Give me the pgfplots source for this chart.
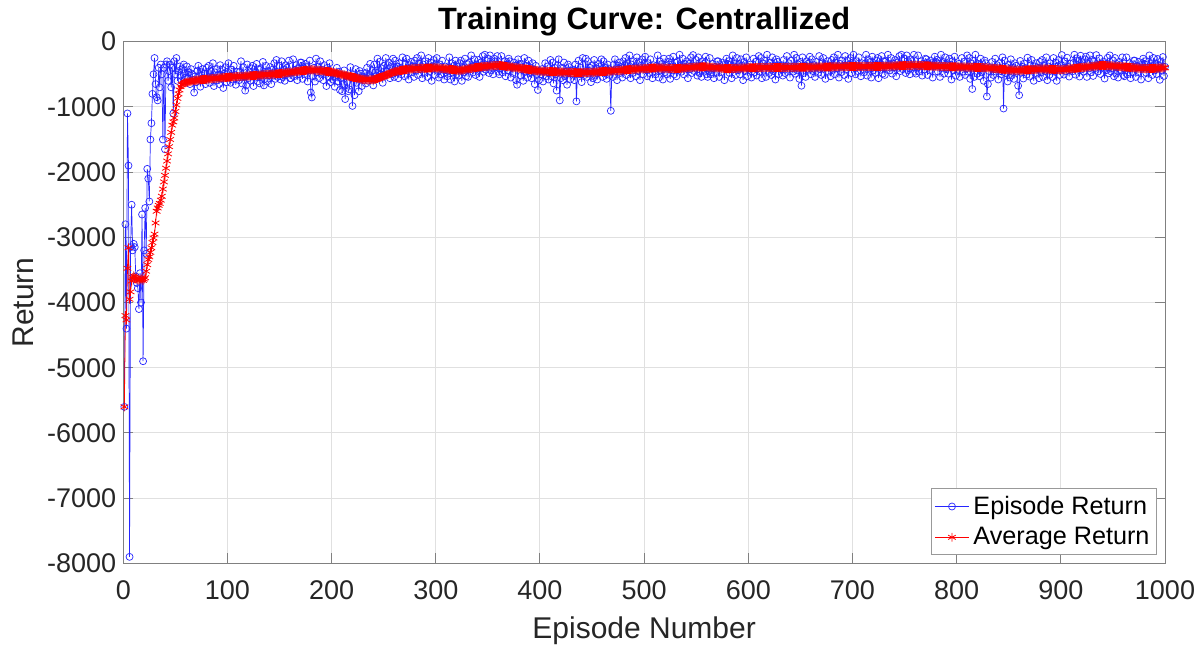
\documentclass[border=0pt]{standalone}
\usepackage{pgfplots}
\usepackage{pgfplotstable}
\usepackage{fontspec}
\setmainfont{Liberation Sans}
\pgfplotsset{compat=1.18}

% Per-episode return and its running average
\pgfplotstableread{
ret avg
-5600 -5600
-2800 -4200
-4400 -4267
-1100 -3475
-1900 -3160
-7900 -3950
-3150 -3836
-2500 -3670
-3200 -3617
-3100 -3590
-3150 -3610
-3600 -3630
-3700 -3640
-3780 -3650
-4100 -3660
-3550 -3640
-4000 -3650
-2650 -3630
-4900 -3660
-3200 -3640
-2550 -3620
-3250 -3520
-1950 -3420
-2100 -3340
-2450 -3300
-1500 -3230
-1250 -3160
-800 -3080
-500 -3010
-250 -2950
-650 -2780
-850 -2600
-900 -2550
-400 -2510
-700 -2480
-350 -2430
-500 -2370
-1500 -2260
-400 -2150
-1650 -2050
-350 -1940
-300 -1830
-600 -1720
-450 -1610
-350 -1500
-700 -1390
-400 -1280
-1100 -1230
-300 -1170
-500 -1070
-250 -970
-600 -870
-450 -800
-380 -740
-520 -690
-600 -660
-420 -650
-350 -640
-480 -630
-550 -625
-380 -621
-560 -618
-470 -615
-650 -611
-420 -607
-490 -604
-590 -600
-780 -597
-530 -594
-620 -590
-450 -589
-370 -587
-520 -586
-690 -584
-470 -583
-420 -581
-580 -580
-490 -578
-650 -577
-400 -575
-560 -574
-370 -572
-630 -571
-450 -569
-540 -568
-330 -566
-680 -565
-470 -563
-600 -562
-420 -560
-510 -559
-650 -557
-360 -556
-570 -554
-430 -553
-710 -551
-490 -550
-390 -548
-620 -547
-460 -545
-330 -544
-530 -543
-630 -542
-430 -541
-580 -540
-370 -539
-510 -538
-660 -537
-460 -536
-550 -535
-590 -534
-460 -533
-300 -532
-640 -531
-390 -530
-530 -529
-750 -528
-670 -527
-350 -526
-560 -525
-470 -524
-600 -523
-410 -522
-370 -521
-680 -520
-480 -518
-550 -517
-340 -516
-610 -515
-420 -514
-640 -513
-420 -511
-520 -510
-310 -509
-670 -508
-570 -507
-370 -505
-610 -504
-450 -503
-510 -502
-390 -501
-650 -500
-430 -498
-520 -497
-330 -496
-570 -495
-280 -494
-540 -492
-490 -491
-370 -490
-580 -488
-300 -486
-540 -484
-430 -482
-600 -480
-360 -478
-400 -476
-490 -474
-290 -472
-560 -470
-560 -468
-470 -466
-270 -464
-530 -462
-430 -459
-360 -457
-590 -455
-410 -453
-500 -450
-320 -448
-320 -446
-570 -445
-410 -443
-500 -441
-340 -440
-390 -438
-610 -437
-440 -435
-290 -434
-780 -432
-855 -431
-530 -432
-400 -434
-610 -435
-260 -437
-470 -438
-380 -440
-560 -441
-300 -443
-490 -445
-430 -447
-590 -449
-360 -451
-460 -453
-680 -455
-400 -457
-540 -459
-330 -461
-620 -463
-480 -465
-580 -469
-490 -473
-690 -477
-540 -481
-400 -485
-610 -489
-460 -493
-740 -497
-560 -501
-760 -505
-650 -509
-440 -513
-880 -516
-520 -520
-620 -524
-760 -528
-730 -532
-390 -536
-550 -539
-985 -543
-500 -547
-820 -550
-420 -554
-630 -557
-560 -561
-760 -564
-450 -568
-490 -571
-680 -575
-550 -578
-540 -580
-480 -582
-640 -584
-400 -585
-600 -586
-510 -586
-340 -585
-550 -584
-450 -583
-670 -582
-350 -578
-470 -574
-520 -569
-260 -563
-550 -557
-310 -551
-500 -546
-410 -541
-630 -535
-370 -530
-520 -523
-250 -516
-450 -509
-360 -502
-320 -496
-560 -489
-390 -482
-500 -476
-260 -469
-540 -462
-290 -459
-470 -456
-380 -452
-560 -449
-330 -446
-400 -443
-500 -440
-240 -436
-440 -433
-530 -430
-340 -428
-260 -426
-410 -425
-580 -423
-360 -421
-310 -419
-470 -417
-380 -416
-540 -414
-290 -412
-440 -411
-250 -411
-510 -410
-330 -409
-420 -409
-210 -408
-560 -408
-350 -407
-480 -407
-300 -406
-400 -405
-540 -405
-250 -404
-460 -404
-320 -403
-600 -403
-380 -402
-280 -401
-510 -401
-350 -400
-250 -402
-450 -404
-550 -405
-350 -407
-500 -409
-290 -410
-430 -412
-580 -414
-380 -415
-470 -417
-530 -419
-400 -421
-240 -422
-580 -424
-330 -426
-470 -428
-370 -429
-610 -431
-290 -433
-500 -435
-390 -437
-520 -438
-330 -438
-290 -437
-600 -435
-400 -433
-470 -430
-260 -427
-530 -424
-340 -420
-540 -417
-320 -414
-420 -412
-210 -409
-380 -406
-470 -403
-270 -401
-510 -398
-350 -396
-410 -393
-280 -391
-540 -389
-320 -387
-410 -386
-220 -384
-460 -382
-200 -380
-430 -379
-380 -377
-260 -375
-480 -374
-210 -372
-440 -371
-330 -370
-500 -368
-260 -367
-300 -366
-390 -364
-220 -363
-460 -362
-500 -364
-410 -366
-220 -368
-470 -370
-370 -372
-300 -374
-530 -377
-350 -379
-440 -381
-260 -383
-300 -385
-550 -387
-390 -390
-480 -392
-320 -394
-370 -396
-590 -398
-660 -401
-270 -403
-350 -405
-340 -407
-520 -410
-390 -412
-600 -414
-250 -417
-460 -419
-370 -421
-550 -424
-290 -426
-480 -428
-400 -430
-560 -432
-330 -435
-430 -437
-650 -439
-370 -441
-510 -444
-740 -446
-590 -448
-450 -450
-500 -451
-420 -452
-610 -452
-460 -453
-330 -454
-530 -455
-380 -455
-580 -456
-480 -457
-280 -458
-530 -459
-320 -459
-640 -460
-400 -461
-500 -462
-750 -462
-360 -463
-270 -464
-900 -464
-560 -465
-400 -466
-590 -467
-320 -468
-530 -468
-460 -469
-660 -470
-350 -471
-390 -471
-580 -472
-450 -473
-490 -473
-430 -474
-590 -474
-350 -474
-915 -475
-460 -475
-290 -475
-500 -475
-400 -475
-620 -475
-250 -475
-470 -474
-510 -474
-260 -473
-540 -472
-300 -472
-490 -471
-400 -470
-620 -470
-360 -469
-560 -468
-280 -467
-520 -466
-410 -465
-580 -464
-340 -463
-380 -462
-470 -461
-270 -460
-540 -459
-300 -458
-480 -457
-400 -455
-570 -454
-350 -453
-410 -452
-510 -451
-1060 -449
-450 -448
-540 -447
-350 -446
-270 -445
-420 -443
-590 -442
-370 -441
-320 -440
-480 -438
-390 -437
-550 -436
-300 -435
-440 -434
-250 -433
-510 -431
-330 -430
-420 -429
-210 -428
-560 -427
-350 -425
-480 -424
-300 -423
-390 -422
-530 -421
-240 -420
-450 -419
-310 -418
-590 -417
-370 -416
-270 -415
-500 -414
-340 -413
-230 -412
-430 -411
-530 -410
-330 -409
-480 -408
-270 -407
-410 -405
-560 -404
-360 -403
-450 -402
-500 -402
-370 -402
-210 -403
-550 -403
-300 -404
-440 -404
-340 -405
-580 -405
-260 -406
-470 -406
-370 -407
-500 -408
-310 -409
-260 -410
-570 -410
-380 -411
-440 -412
-230 -413
-500 -413
-320 -414
-530 -413
-310 -412
-410 -411
-200 -409
-370 -408
-460 -407
-260 -406
-500 -404
-340 -403
-400 -402
-300 -400
-560 -399
-340 -398
-420 -396
-240 -395
-480 -393
-205 -392
-450 -391
-400 -389
-280 -388
-520 -388
-240 -387
-480 -387
-370 -387
-540 -386
-300 -386
-340 -386
-430 -385
-230 -385
-500 -385
-540 -387
-450 -388
-250 -390
-500 -391
-400 -393
-340 -394
-560 -396
-390 -397
-480 -399
-300 -400
-300 -401
-540 -403
-390 -404
-470 -406
-320 -407
-360 -408
-590 -410
-410 -411
-260 -413
-340 -414
-300 -413
-480 -413
-350 -412
-560 -411
-210 -411
-420 -410
-330 -409
-510 -409
-250 -408
-440 -407
-340 -406
-500 -406
-270 -405
-370 -404
-590 -404
-310 -403
-450 -402
-240 -402
-530 -401
-390 -400
-430 -400
-350 -400
-550 -399
-400 -399
-260 -399
-470 -399
-310 -398
-520 -398
-410 -398
-220 -398
-460 -398
-250 -398
-560 -398
-330 -397
-430 -397
-290 -397
-540 -397
-200 -397
-360 -397
-480 -397
-320 -397
-510 -397
-240 -397
-450 -396
-380 -396
-580 -396
-270 -396
-310 -396
-500 -396
-370 -396
-420 -396
-360 -396
-520 -395
-280 -395
-480 -395
-390 -395
-220 -395
-430 -394
-330 -394
-550 -394
-290 -394
-410 -394
-460 -394
-200 -394
-490 -393
-250 -393
-440 -393
-350 -393
-570 -393
-310 -393
-675 -393
-240 -393
-480 -392
-370 -392
-540 -392
-300 -392
-340 -392
-430 -391
-230 -391
-500 -391
-270 -391
-450 -390
-360 -390
-540 -390
-310 -389
-380 -389
-480 -389
-220 -388
-420 -388
-510 -388
-330 -388
-250 -388
-400 -387
-570 -387
-350 -387
-300 -387
-460 -387
-370 -386
-530 -386
-280 -386
-430 -386
-240 -385
-500 -385
-320 -385
-410 -384
-200 -384
-550 -384
-340 -383
-470 -383
-290 -383
-370 -383
-510 -382
-220 -382
-430 -382
-290 -381
-570 -381
-350 -381
-250 -380
-480 -380
-320 -380
-200 -380
-400 -381
-500 -381
-300 -380
-450 -380
-240 -379
-380 -380
-530 -380
-330 -381
-420 -380
-470 -380
-340 -379
-200 -379
-520 -380
-270 -380
-410 -381
-310 -381
-550 -380
-230 -380
-440 -380
-350 -380
-480 -380
-290 -379
-250 -379
-560 -379
-360 -379
-430 -379
-220 -378
-490 -378
-300 -378
-510 -377
-300 -377
-400 -376
-200 -376
-360 -375
-440 -375
-250 -374
-490 -374
-330 -373
-390 -372
-280 -371
-530 -371
-320 -370
-400 -370
-220 -369
-450 -369
-200 -368
-420 -368
-370 -367
-260 -366
-480 -366
-210 -365
-440 -365
-330 -364
-500 -364
-270 -363
-300 -363
-390 -362
-200 -362
-460 -361
-490 -362
-400 -363
-210 -364
-460 -364
-360 -365
-300 -366
-520 -367
-340 -367
-430 -368
-260 -369
-270 -370
-510 -371
-350 -371
-440 -372
-290 -373
-330 -374
-550 -375
-380 -375
-230 -376
-310 -377
-280 -378
-460 -378
-340 -379
-540 -380
-200 -380
-400 -381
-310 -381
-490 -382
-240 -382
-420 -383
-330 -383
-490 -384
-260 -384
-360 -384
-580 -385
-300 -385
-440 -385
-230 -386
-520 -386
-380 -386
-430 -386
-340 -387
-540 -387
-390 -388
-250 -388
-460 -388
-310 -389
-510 -389
-410 -390
-210 -390
-460 -390
-250 -391
-570 -391
-330 -392
-725 -392
-290 -393
-540 -393
-200 -394
-360 -394
-490 -395
-340 -395
-530 -396
-260 -397
-470 -397
-400 -398
-600 -398
-290 -399
-330 -400
-840 -400
-650 -401
-450 -403
-390 -404
-550 -406
-310 -407
-510 -409
-420 -411
-260 -412
-460 -414
-360 -415
-580 -417
-330 -418
-450 -420
-500 -421
-240 -423
-1025 -424
-290 -426
-480 -427
-390 -429
-610 -430
-350 -432
-550 -433
-270 -433
-510 -434
-400 -435
-570 -436
-330 -436
-370 -437
-460 -438
-675 -438
-820 -439
-295 -438
-475 -437
-385 -436
-565 -435
-335 -434
-405 -434
-505 -433
-245 -432
-445 -431
-535 -430
-360 -429
-280 -428
-430 -427
-600 -426
-380 -425
-330 -423
-490 -422
-400 -421
-560 -420
-310 -419
-470 -419
-280 -419
-540 -420
-360 -420
-450 -420
-240 -421
-590 -421
-380 -421
-510 -422
-330 -422
-400 -423
-540 -424
-250 -425
-460 -425
-320 -426
-600 -427
-380 -428
-280 -428
-510 -429
-350 -430
-205 -429
-405 -427
-505 -426
-305 -424
-455 -423
-245 -421
-385 -420
-535 -418
-335 -417
-425 -415
-455 -413
-325 -411
-200 -409
-505 -408
-255 -406
-395 -404
-295 -402
-535 -401
-215 -399
-425 -397
-330 -395
-460 -394
-270 -392
-230 -390
-540 -389
-340 -387
-410 -385
-210 -384
-470 -382
-280 -380
-525 -378
-305 -376
-405 -374
-205 -373
-365 -371
-455 -369
-255 -367
-495 -366
-335 -364
-395 -362
-305 -363
-565 -364
-345 -365
-435 -366
-245 -367
-485 -368
-210 -369
-455 -370
-405 -371
-285 -372
-530 -373
-250 -375
-490 -376
-380 -378
-550 -379
-310 -380
-350 -382
-440 -383
-240 -385
-510 -386
-530 -387
-440 -389
-240 -390
-500 -391
-400 -393
-330 -394
-560 -395
-380 -396
-470 -398
-290 -399
-290 -400
-540 -402
-380 -403
-470 -405
-310 -406
-360 -407
-580 -409
-410 -410
-260 -412
-340 -413
-300 -413
-480 -412
-350 -412
-560 -411
-210 -411
-420 -410
-330 -410
-510 -409
-250 -409
-440 -408
-335 -407
-495 -406
-265 -405
-365 -405
-585 -404
-305 -403
-445 -402
-235 -402
-525 -401
-385 -400
}\runs

\begin{document}
\begin{tikzpicture}
\begin{axis}[
  name=ax,
  scale only axis,
  width=520.85pt, height=260.85pt,
  xmin=0, xmax=1000, ymin=-8000, ymax=0,
  xtick={0,100,...,1000},
  ytick={-8000,-7000,...,0},
  tick align=inside,
  major tick length=5pt,
  axis line style={draw=black!50, line width=0.5pt},
  tick style={draw=black!50, line width=0.5pt},
  grid=major,
  grid style={draw=black!12, line width=0.5pt},
  /pgf/number format/assume math mode=true,
  /pgf/number format/set thousands separator={},
  ticklabel style={font=\fontsize{13.5}{16}\selectfont, text=black!85},
  xticklabel style={yshift=-5pt},
  title={Training Curve: Centrallized},
  title style={font=\bfseries\fontsize{15.4}{18}\selectfont,
    at={([yshift=0.2pt]axis description cs:0.5,1)}, anchor=base},
  xlabel={Episode Number},
  xlabel style={font=\fontsize{15}{18}\selectfont, text=black!85,
    at={([yshift=-37.75pt]axis description cs:0.5,0)}, anchor=base},
  ylabel={Return},
  ylabel style={font=\fontsize{15}{18}\selectfont, text=black!85,
    at={([xshift=-45pt]axis description cs:0,0.5)}, anchor=base, rotate=0},
  legend style={font=\fontsize{12.6}{15}\selectfont, draw=black!40,
    line width=0.5pt, fill=white,
    at={(axis description cs:1,0)}, anchor=south east,
    xshift=-4pt, yshift=4.2pt, inner sep=1.5pt, row sep=1pt},
  legend cell align=left,
]
\addplot[blue!85!white, line width=0.35pt, mark=o, mark size=1.75pt]
  table[x expr=\coordindex+1, y=ret] {\runs};
\addlegendentry{Episode Return}
\addplot[red, line width=0.4pt, mark=asterisk, mark size=2.2pt]
  table[x expr=\coordindex+1, y=avg] {\runs};
\addlegendentry{Average Return}
\end{axis}
\pgfresetboundingbox
\path[use as bounding box] ([shift={(-61.65pt,-42.3pt)}]ax.south west)
  rectangle ([shift={(18pt,20.85pt)}]ax.north east);
\end{tikzpicture}
\end{document}
